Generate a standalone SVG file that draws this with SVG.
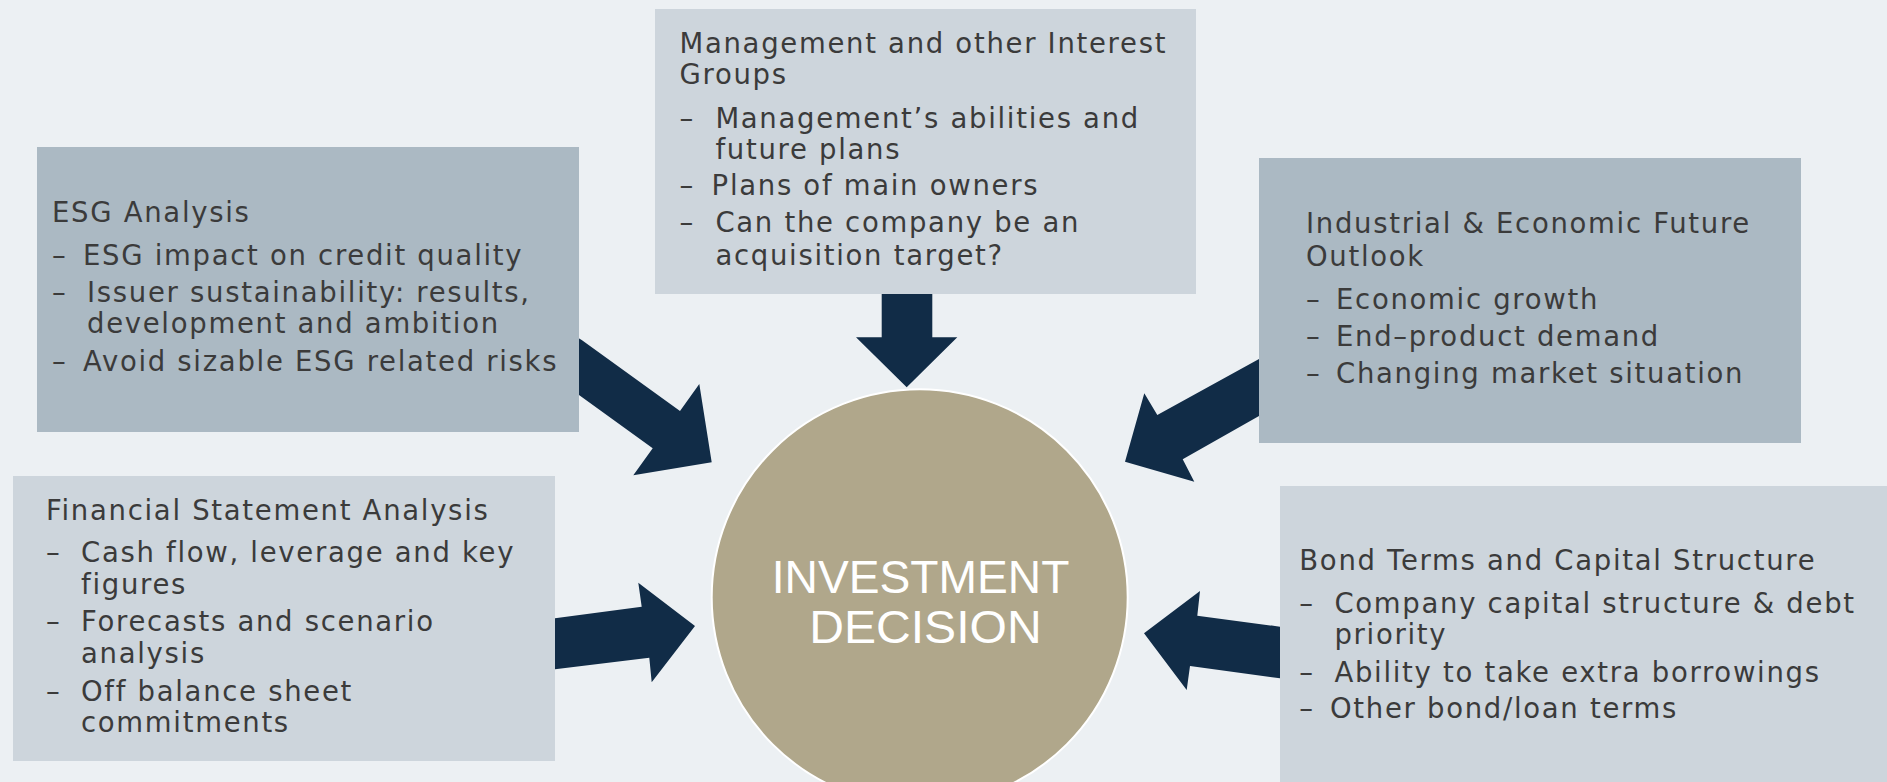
<svg xmlns="http://www.w3.org/2000/svg" width="1887" height="782" viewBox="0 0 1887 782">
<style>
.bg{fill:#ecf0f3}
.dark{fill:#abb9c3}
.light{fill:#cdd5dc}
.arrow{fill:#112c47}
.t{font-family:"DejaVu Sans","Liberation Sans",sans-serif;font-size:27.5px;letter-spacing:1.7px;fill:#3b3b3b}
.c{font-family:"Liberation Sans",Arial,sans-serif;font-size:46px;fill:#ffffff}
</style>
<rect class="bg" x="0" y="0" width="1887" height="782"/>
<g id="connectors">
  <polygon class="arrow" points="581.7,340 680,411 699.3,384 711.7,462.3 633.3,475.3 652.7,448.3 579,395 560,381 565,330"/>
  <polygon class="arrow" points="881.7,280 932.3,280 932.3,337.3 957.3,337.3 906.7,387.3 856,337.3 881.7,337.3"/>
  <polygon class="arrow" points="1290,342 1259,359 1157.3,415 1144.3,393.3 1125,461.7 1194.3,481.7 1182.7,459.3 1259,416 1290,399"/>
  <polygon class="arrow" points="530,621 555,618.3 641.7,606.7 638.3,582.7 695,626 651.7,682.3 649.3,657.7 555,669.3 530,672"/>
  <polygon class="arrow" points="1300,629 1280,626.7 1197.3,615.7 1200,591 1144,633.3 1186.7,690 1190,666 1280,678.3 1300,681"/>
</g>
<g id="esg">
  <rect class="dark" x="37" y="147" width="542" height="285"/>
  <text class="t" x="52" y="222">ESG Analysis</text>
  <text class="t" x="52" y="265">–</text><text class="t" x="83" y="265">ESG impact on credit quality</text>
  <text class="t" x="52" y="302.2">–</text><text class="t"><tspan x="87" y="302.2">Issuer sustainability: results,</tspan><tspan x="87" y="333.4">development and ambition</tspan></text>
  <text class="t" x="52" y="370.7">–</text><text class="t" x="83" y="370.7">Avoid sizable ESG related risks</text>
</g>
<g id="management">
  <rect class="light" x="655" y="9" width="541" height="285"/>
  <text class="t"><tspan x="679.5" y="53">Management and other Interest</tspan><tspan x="679.5" y="84.2">Groups</tspan></text>
  <text class="t" x="679.5" y="128">–</text><text class="t"><tspan x="715.4" y="128">Management’s abilities and</tspan><tspan x="715.4" y="159.2">future plans</tspan></text>
  <text class="t" x="679.5" y="195">–</text><text class="t" x="711.6" y="195">Plans of main owners</text>
  <text class="t" x="679.5" y="231.7">–</text><text class="t"><tspan x="715.4" y="231.7">Can the company be an</tspan><tspan x="715.4" y="265">acquisition target?</tspan></text>
</g>
<g id="industrial">
  <rect class="dark" x="1259" y="158" width="542" height="285"/>
  <text class="t"><tspan x="1306" y="233.3">Industrial &amp; Economic Future</tspan><tspan x="1306" y="266">Outlook</tspan></text>
  <text class="t" x="1306" y="309.3">–</text><text class="t" x="1336" y="309.3">Economic growth</text>
  <text class="t" x="1306" y="346">–</text><text class="t" x="1336" y="346">End–product demand</text>
  <text class="t" x="1306" y="383.3">–</text><text class="t" x="1336" y="383.3">Changing market situation</text>
</g>
<g id="financial">
  <rect class="light" x="13" y="476" width="542" height="285"/>
  <text class="t" x="46" y="520">Financial Statement Analysis</text>
  <text class="t" x="46" y="561.7">–</text><text class="t"><tspan x="81" y="561.7">Cash flow, leverage and key</tspan><tspan x="81" y="594.3">figures</tspan></text>
  <text class="t" x="46" y="631.4">–</text><text class="t"><tspan x="81" y="631.4">Forecasts and scenario</tspan><tspan x="81" y="662.6">analysis</tspan></text>
  <text class="t" x="46" y="700.5">–</text><text class="t"><tspan x="81" y="700.5">Off balance sheet</tspan><tspan x="81" y="731.7">commitments</tspan></text>
</g>
<g id="bond">
  <rect class="light" x="1280" y="486" width="607" height="296"/>
  <text class="t" x="1299.3" y="570">Bond Terms and Capital Structure</text>
  <text class="t" x="1299.3" y="613">–</text><text class="t"><tspan x="1334.4" y="613">Company capital structure &amp; debt</tspan><tspan x="1334.4" y="644.2">priority</tspan></text>
  <text class="t" x="1299.3" y="681.7">–</text><text class="t" x="1334.4" y="681.7">Ability to take extra borrowings</text>
  <text class="t" x="1299.3" y="718.3">–</text><text class="t" x="1330" y="718.3">Other bond/loan terms</text>
</g>
<g id="decision">
  <circle cx="919.7" cy="597.3" r="208" fill="#b0a78b" stroke="#ffffff" stroke-width="2"/>
  <text class="c"><tspan x="771.7" y="593" textLength="297.7" lengthAdjust="spacingAndGlyphs">INVESTMENT</tspan><tspan x="809.3" y="643" textLength="232.3" lengthAdjust="spacingAndGlyphs">DECISION</tspan></text>
</g>
</svg>
